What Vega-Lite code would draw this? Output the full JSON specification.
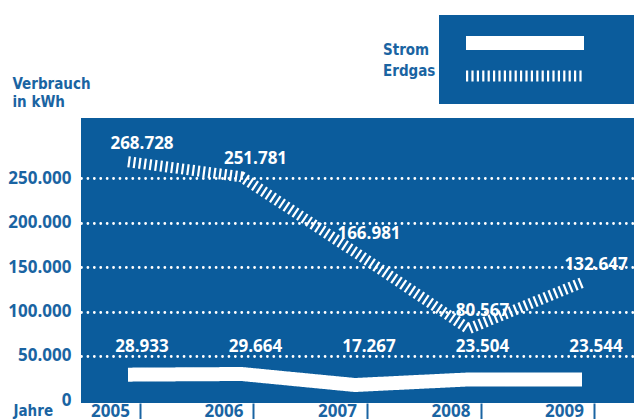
{
  "$schema": "https://vega.github.io/schema/vega-lite/v6.json",
  "width": 553,
  "height": 285,
  "autosize": {"type": "none"},
  "padding": {"left": 81, "top": 118, "right": 0, "bottom": 16},
  "background": "white",
  "config": {
    "locale": {"number": {"decimal": ",", "thousands": ".", "grouping": [3], "currency": ["", " €"]}},
    "view": {"fill": "#0b5c9c", "stroke": null}
  },
  "data": {
    "values": [
      {"year": 2005, "series": "Strom", "value": 28933},
      {"year": 2006, "series": "Strom", "value": 29664},
      {"year": 2007, "series": "Strom", "value": 17267},
      {"year": 2008, "series": "Strom", "value": 23504},
      {"year": 2009, "series": "Strom", "value": 23544},
      {"year": 2005, "series": "Erdgas", "value": 268728},
      {"year": 2006, "series": "Erdgas", "value": 251781},
      {"year": 2007, "series": "Erdgas", "value": 166981},
      {"year": 2008, "series": "Erdgas", "value": 80567},
      {"year": 2009, "series": "Erdgas", "value": 132647}
    ]
  },
  "layer": [
    {
      "mark": {"type": "line", "color": "white", "strokeCap": "butt"},
      "encoding": {
        "x": {
          "field": "year", "type": "quantitative",
          "scale": {"domain": [2004.586, 2009.458], "nice": false, "zero": false},
          "axis": {
            "values": [2005, 2006, 2007, 2008, 2009], "format": "d",
            "labelOffset": -30, "tickOffset": 12, "tickSize": 16, "tickWidth": 2, "tickColor": "#1a64a2",
            "domain": false, "grid": false, "labelPadding": -16, "labelFlush": false,
            "labelFont": "Open Sans", "labelFontWeight": "bold", "labelFontSize": 17, "labelColor": "#1a64a2",
            "title": "Jahre", "titleX": -68, "titleY": 12, "titleAlign": "left", "titleBaseline": "alphabetic",
            "titleFont": "Liberation Sans Narrow, DejaVu Sans Condensed, sans-serif", "titleFontSize": 15, "titleFontWeight": "bold", "titleColor": "#1a64a2"
          }
        },
        "y": {
          "field": "value", "type": "quantitative",
          "scale": {"domain": [-3000, 318000], "nice": false, "zero": false},
          "axis": {
            "values": [0, 50000, 100000, 150000, 200000, 250000], "format": ",d",
            "grid": true, "gridColor": "white", "gridDash": [0.01, 6.4], "gridCap": "round", "gridWidth": 2.8,
            "gridOpacity": {"condition": {"test": "datum.value === 0", "value": 0}, "value": 1},
            "domain": false, "ticks": false, "labelPadding": 10,
            "labelFont": "Open Sans", "labelFontWeight": "bold", "labelFontSize": 17, "labelColor": "#1a64a2",
            "title": ["Verbrauch", "in kWh"], "titleAngle": 0, "titleAlign": "left", "titleBaseline": "alphabetic",
            "titleX": -69, "titleY": -30, "titleLineHeight": 18,
            "titleFont": "Liberation Sans Narrow, DejaVu Sans Condensed, sans-serif", "titleFontSize": 15, "titleFontWeight": "bold", "titleColor": "#1a64a2"
          }
        },
        "strokeDash": {
          "field": "series", "type": "nominal",
          "scale": {"domain": ["Strom", "Erdgas"], "range": [[1, 0], [2.2, 3.2]]},
          "legend": {"title": null, "orient": "none", "legendX": 358, "legendY": -103, "symbolType": "stroke", "symbolSize": 13924, "symbolStrokeColor": "white", "fillColor": "#0b5c9c", "padding": 20, "clipHeight": 16, "rowPadding": 17, "labelExpr": "''", "labelOffset": 30}
        },
        "strokeWidth": {
          "field": "series", "type": "ordinal",
          "scale": {"domain": ["Strom", "Erdgas"], "range": [14, 11]},
          "legend": {"title": null, "orient": "none", "legendX": 358, "legendY": -103, "symbolType": "stroke", "symbolSize": 13924, "symbolStrokeColor": "white", "fillColor": "#0b5c9c", "padding": 20, "clipHeight": 16, "rowPadding": 17, "labelExpr": "''", "labelOffset": 30}
        },
        "opacity": {
          "field": "series", "type": "ordinal", "sort": "descending",
          "scale": {"range": [1, 1]},
          "legend": {"title": null, "orient": "none", "legendX": 302, "legendY": -75.5, "symbolSize": 0, "symbolOpacity": 0, "symbolStrokeWidth": 0, "labelFont": "Liberation Sans Narrow, DejaVu Sans Condensed, sans-serif", "labelFontSize": 15, "labelFontWeight": "bold", "labelColor": "#1a64a2", "labelOffset": -15, "rowPadding": 5, "padding": 0}
        }
      }
    },
    {
      "transform": [{"filter": "datum.series === 'Erdgas'"}],
      "mark": {"type": "text", "color": "white", "font": "Open Sans", "fontWeight": "bold", "fontSize": 17, "dx": 14, "dy": -18, "baseline": "middle", "align": "center"},
      "encoding": {
        "x": {"field": "year", "type": "quantitative"},
        "y": {"field": "value", "type": "quantitative"},
        "text": {"field": "value", "type": "quantitative", "format": ",d"}
      }
    },
    {
      "transform": [{"filter": "datum.series === 'Strom'"}],
      "mark": {"type": "text", "color": "white", "font": "Open Sans", "fontWeight": "bold", "fontSize": 17, "dx": 14, "dy": -9, "baseline": "middle", "align": "center"},
      "encoding": {
        "x": {"field": "year", "type": "quantitative"},
        "y": {"datum": 50000},
        "text": {"field": "value", "type": "quantitative", "format": ",d"}
      }
    }
  ]
}
